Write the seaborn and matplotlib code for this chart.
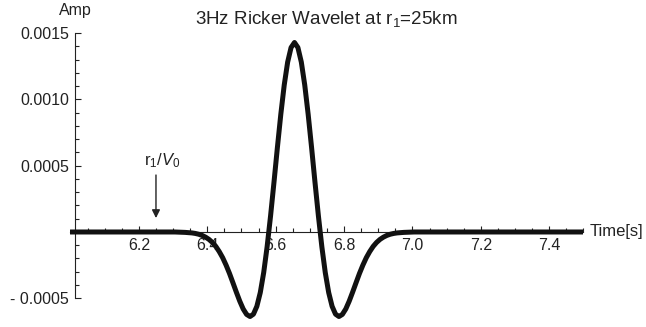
import numpy as np
import matplotlib
matplotlib.use("Agg")
import matplotlib.pyplot as plt
import matplotlib.ticker as mticker
import seaborn as sns

# Ricker wavelet trace (time in s, amplitude in units of 1e-4)
time_s = [6.0,
          6.305, 6.315, 6.325, 6.335, 6.345, 6.355, 6.365, 6.375, 6.385, 6.395,
          6.405, 6.415, 6.425, 6.435, 6.445, 6.455, 6.465, 6.475, 6.485, 6.495,
          6.505, 6.515, 6.525, 6.535, 6.545, 6.555, 6.565, 6.575, 6.585, 6.595,
          6.605, 6.615, 6.625, 6.635, 6.645, 6.655, 6.665, 6.675, 6.685, 6.695,
          6.705, 6.715, 6.725, 6.735, 6.745, 6.755, 6.765, 6.775, 6.785, 6.795,
          6.805, 6.815, 6.825, 6.835, 6.845, 6.855, 6.865, 6.875, 6.885, 6.895,
          6.905, 6.915, 6.925, 6.935, 6.945, 6.955, 6.965, 6.975, 6.985, 6.995,
          7.005,
          7.5]
amp_e4 = [0.0,
          0.00, -0.01, -0.02, -0.03, -0.05, -0.07, -0.11, -0.17, -0.26, -0.39,
          -0.56, -0.79, -1.09, -1.48, -1.94, -2.50, -3.13, -3.83, -4.54, -5.22,
          -5.81, -6.22, -6.38, -6.20, -5.61, -4.57, -3.06, -1.11, 1.20, 3.74,
          6.37, 8.88, 11.09, 12.82, 13.92, 14.30, 13.92, 12.82, 11.09, 8.88,
          6.37, 3.74, 1.20, -1.11, -3.06, -4.57, -5.61, -6.20, -6.38, -6.22,
          -5.81, -5.22, -4.54, -3.83, -3.13, -2.50, -1.94, -1.48, -1.09, -0.79,
          -0.56, -0.39, -0.26, -0.17, -0.11, -0.07, -0.05, -0.03, -0.02, -0.01,
          0.00,
          0.0]
amp = np.array(amp_e4) * 1e-4

x_ticks = [6.2, 6.4, 6.6, 6.8, 7.0, 7.2, 7.4]
x_labels = ["6.2", "6.4", "6.6", "6.8", "7.0", "7.2", "7.4"]
y_ticks = [-0.0005, 0.0005, 0.0010, 0.0015]
y_labels = ["- 0.0005", "0.0005", "0.0010", "0.0015"]

arrival_time = 6.25

sns.set_style("white")
plt.rcParams["font.family"] = ["Liberation Sans", "DejaVu Sans"]
plt.rcParams["mathtext.fontset"] = "custom"
plt.rcParams["mathtext.rm"] = "Liberation Sans"
plt.rcParams["mathtext.it"] = "Liberation Sans:italic"

ink = "#222222"

fig = plt.figure(figsize=(6.46, 3.27), dpi=100)
ax = fig.add_axes([0.1091, 0.0069, 0.7941, 0.932])
ax.set_facecolor("white")

sns.lineplot(x=time_s, y=amp, ax=ax, color="#111111", linewidth=3.6,
             sort=False, zorder=3)

ax.set_xlim(6.0, 7.5)
ax.set_ylim(-0.0007, 0.0016)

# axes crossing like the original plot
for s in ["top", "right"]:
    ax.spines[s].set_visible(False)
ax.spines["left"].set_position(("data", 6.012))
ax.spines["bottom"].set_position(("data", 0))
ax.spines["left"].set_bounds(-0.0005, 0.0015)
ax.spines["bottom"].set_bounds(6.0, 7.5)
for s in ["left", "bottom"]:
    ax.spines[s].set_color(ink)
    ax.spines[s].set_linewidth(0.8)

ax.xaxis.set_major_locator(mticker.FixedLocator(x_ticks))
ax.xaxis.set_major_formatter(mticker.FixedFormatter(x_labels))
ax.xaxis.set_minor_locator(mticker.FixedLocator(np.arange(6.05, 7.5, 0.05)))
ax.yaxis.set_major_locator(mticker.FixedLocator(y_ticks))
ax.yaxis.set_major_formatter(mticker.FixedFormatter(y_labels))
ax.yaxis.set_minor_locator(mticker.FixedLocator(np.arange(-0.0005, 0.00151, 0.0001)))

ax.tick_params(which="both", direction="in", color=ink, width=0.8,
               labelsize=11.5, labelcolor=ink, bottom=True, left=True)
ax.tick_params(which="major", length=4.2, pad=4)
ax.tick_params(which="minor", length=2.8)

fig.text(326.5 / 646, 1 - 24 / 327, r"3Hz Ricker Wavelet at $\mathrm{r}_1$=25km",
         ha="center", va="baseline", fontsize=13.5, color=ink)
fig.text(75 / 646, 1 - 15 / 327, "Amp", ha="center", va="baseline",
         fontsize=11.5, color=ink)
ax.annotate("Time[s]", xy=(7.5, 0), xytext=(4.5, 0), textcoords="offset points",
            ha="left", va="center", fontsize=12, color=ink)

ax.annotate("", xy=(arrival_time, 0.000105), xytext=(arrival_time, 0.00043),
            arrowprops=dict(arrowstyle="-|>", color=ink, lw=1,
                            mutation_scale=12, shrinkA=0, shrinkB=0))
ax.text(arrival_time + 0.017, 0.00054, r"$\mathrm{r}_1/V_0$", ha="center",
        va="center", fontsize=12, color=ink)

fig.savefig("out.png", dpi=100)
